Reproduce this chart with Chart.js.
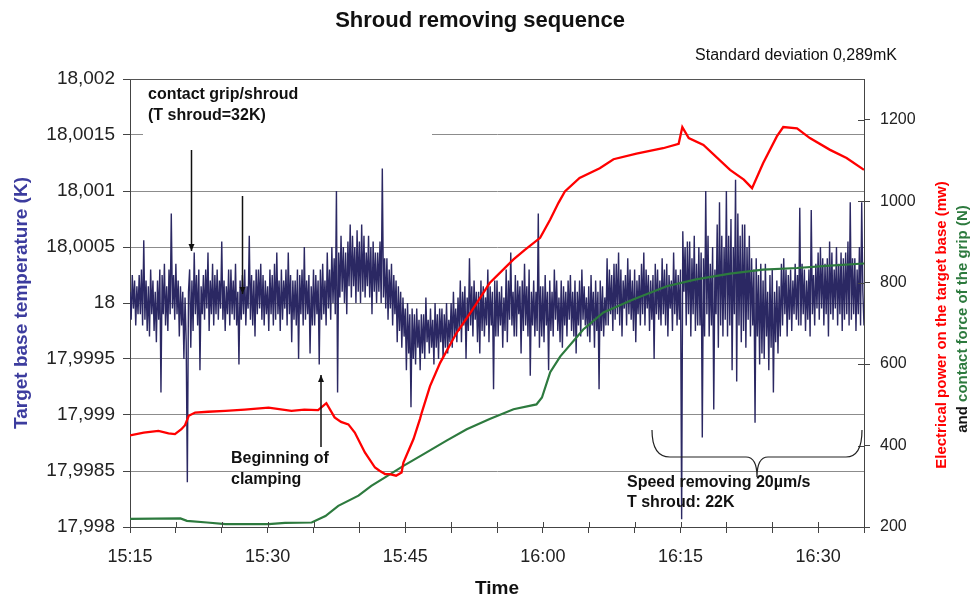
<!DOCTYPE html>
<html>
<head>
<meta charset="utf-8">
<script src="https://cdn.jsdelivr.net/npm/chart.js@4.4.1/dist/chart.umd.min.js"></script>
<style>
  html, body { margin: 0; padding: 0; background: #ffffff; }
  canvas { display: block; }
</style>
</head>
<body>
<canvas id="c" width="973" height="598"></canvas>
<script>
// ---------- DATA (time in minutes after 15:15) ----------
const timeTickMinutes = [0, 15, 30, 45, 60, 75];
const timeTickLabels = ['15:15', '15:30', '15:45', '16:00', '16:15', '16:30'];

// Target base temperature, offset from 18 K in mK, one reading every 0.125 min (8 per minute)
const tempBaseK = 18;
const tempStepMin = 0.125;
const tempOffsetMilliK = [
  .1,-.15,.25,-.05,.2,-.2,.15,-.1,
  .25,-.1,.3,-.2,.56,-.15,.2,-.25,
  .15,-.3,.3,-.1,.2,-.25,.1,-.35,
  .2,-.15,.3,-.8,.25,-.1,.35,-.2,
  .15,-.25,.3,-.1,.8,-.05,.25,-.15,
  .35,-.1,.2,-.3,.15,-.2,.1,-.5,
  .05,-.35,-1.6,.1,.3,-.4,.2,-.25,
  .45,-.1,.25,-.2,.3,-.6,.15,-.1,
  .25,-.15,.3,-.05,.45,-.25,.2,-.1,
  .35,-.2,.25,-.1,.3,-.15,.2,-.05,
  .55,-.15,.2,-.25,.15,-.1,.3,-.2,
  .3,-.1,.2,-.15,.35,-.2,.1,-.55,
  .2,-.15,.25,-.1,.3,-.2,.15,-.05,
  .6,-.15,.25,-.2,.2,-.3,.3,-.1,
  .3,-.05,.35,-.15,.25,-.2,.2,-.1,
  .15,-.25,.3,-.1,.25,-.2,.35,-.15,
  .45,-.1,.2,-.25,.3,-.15,.2,-.05,
  .3,-.2,.45,-.1,.25,-.35,.2,-.15,
  .2,-.2,.3,-.5,.25,-.1,.3,-.2,
  .5,-.15,.2,-.1,.25,-.45,.15,-.2,
  .3,-.2,.25,-.1,.2,-.55,.3,-.15,
  .35,-.1,.2,-.2,.45,-.05,.3,-.15,
  .5,.0,.4,-.1,1.0,-.8,.45,.05,
  .6,.1,.5,.0,.45,-.1,.55,.15,
  .7,.05,.6,.15,.5,.0,.65,.1,
  .55,.0,.7,.1,.6,.05,.45,.15,
  .6,.05,.5,-.1,.55,.1,.45,.0,
  .45,.1,.55,.0,1.2,.05,.4,-.05,
  .4,-.15,.3,-.05,.35,-.2,.25,-.1,
  .2,-.35,.15,-.25,.1,-.4,.05,-.3,
  -.05,-.6,.0,-.45,-.1,-.93,-.05,-.5,
  -.1,-.55,-.05,-.4,-.15,-.6,-.1,-.45,
  -.1,-.5,.05,-.35,-.15,-.45,-.05,-.4,
  -.15,-.55,.0,-.4,-.1,-.5,-.05,-.35,
  -.05,-.5,-.1,-.4,.0,-.45,-.15,-.35,
  .0,-.4,.1,-.3,-.05,-.35,.05,-.25,
  .2,-.35,.1,-.2,.15,-.5,.05,-.25,
  .4,-.2,.15,-.3,.2,-.15,.1,-.35,
  .1,-.45,.2,-.25,.15,-.3,.05,-.2,
  .3,-.35,.15,-.2,.1,-.77,.2,-.3,
  .2,-.3,.1,-.2,.15,-.4,.05,-.25,
  .3,-.35,.2,-.15,.45,-.2,.1,-.3,
  .25,-.3,.2,-.1,.15,-.45,.2,-.25,
  .35,-.2,.15,-.3,.3,-.65,.1,-.2,
  .2,-.3,.1,-.25,.8,-.4,.15,-.3,
  .15,-.35,.25,-.2,.1,-.6,.2,-.25,
  .1,-.3,.3,-.15,.2,-.25,.05,-.35,
  .2,-.4,.15,-.2,.1,-.3,.2,-.15,
  .25,-.25,.1,-.3,.2,-.45,.1,-.2,
  .2,-.3,.3,-.15,.15,-.2,.05,-.3,
  .15,-.35,.25,-.2,.1,-.4,.2,-.25,
  .1,-.77,.2,-.25,.15,-.3,.05,-.2,
  .4,-.2,.3,-.1,.25,-.25,.35,-.15,
  .35,-.1,.45,-.2,.3,-.3,.2,-.05,
  .25,-.2,.4,-.1,.3,-.15,.2,-.25,
  .3,-.35,.2,-.1,.25,-.2,.35,-.1,
  .45,-.2,.3,-.05,.25,-.25,.2,-.15,
  .25,-.5,.35,-.1,.3,-.15,.2,-.2,
  .4,-.1,.3,-.2,.35,-.3,.25,-.05,
  .2,-.25,.45,-.1,.3,-.2,.25,-.15,
  .3,-1.93,.64,.1,.5,-.2,.55,-.1,
  .55,-.3,.4,-.1,.6,-.25,.35,-.2,
  .5,-.2,.45,-1.2,.4,-.3,1.0,-.1,
  .6,-.3,.35,-.2,.5,-.95,.3,-.1,
  .7,-.4,.9,-.2,.6,-.3,.5,-.15,
  1.0,-.3,.6,-.2,.75,-.6,.5,-.1,
  1.1,-.7,.8,-.2,.6,-.35,.7,-.25,
  .7,-.4,.5,-.15,.6,-.3,.4,-.2,
  .3,-1.07,.4,-.3,.25,-.55,.35,-.45,
  .2,-.5,.35,-.3,.1,-.6,.25,-.4,
  .3,-.8,.1,-.35,.2,-.45,.15,-.3,
  .35,-.2,.4,-.1,.3,-.3,.25,-.15,
  .3,-.25,.2,-.1,.35,-.15,.25,-.2,
  .85,-.2,.35,-.1,.3,-.25,.2,-.15,
  .3,-.3,.83,-.1,.25,-.2,.35,-.05,
  .45,-.15,.5,-.05,.4,-.2,.35,-.1,
  .4,-.3,.55,-.1,.45,-.15,.3,-.05,
  .5,-.2,.35,-.1,.45,-.25,.4,-.15,
  .45,-.1,.55,-.2,.9,-.15,.4,-.1,
  .4,-.25,.3,-.1,.5,-.2,.9,.1,
  -.2
];

// Electrical power on the target base (mW)
const powerTimes = [0,1.5,3.1,4.2,4.9,5.6,6.0,6.4,7.1,8.5,10.4,12.5,15.1,17.6,19.0,20.5,21.4,22.3,23.0,23.8,
  24.5,25.6,26.7,27.2,27.8,28.3,29.0,29.6,29.8,30.9,31.6,31.8,32.7,33.8,35.6,37.1,39.2,41.8,43.0,44.7,
  45.8,46.7,47.4,49.0,51.2,52.7,55.2,58.1,59.8,60.2,60.9,62.5,65.4,66.9,67.8,69.0,70.5,71.2,72.7,74.1,
  76.3,78.1,80.0];
const powerValues = [425,432,436,430,428,440,450,473,481,483,485,488,493,485,488,487,504,469,458,452,
  432,383,346,338,330,330,326,334,358,416,465,481,546,603,677,726,799,857,880,910,
  955,996,1024,1057,1081,1103,1117,1130,1141,1182,1155,1138,1077,1053,1032,1093,1159,1182,1179,1155,
  1126,1106,1077];

// Contact force of the grip (N)
const forceTimes = [0,5.5,6.2,8.4,10.4,15.1,16.9,19.8,21.3,22.7,24.9,26.3,27.8,29.8,32.0,34.5,36.7,39.2,41.8,44.3,
  44.9,45.8,46.9,49.4,51.6,54.9,58.5,61.7,65.4,69.0,72.7,76.3,80.0];
const forceValues = [220,221,215,211,207,207,210,211,227,252,277,301,322,350,379,412,440,465,489,501,
  518,580,619,685,727,759,791,808,822,832,836,842,847];

// ---------- build datasets ----------
const tempData = tempOffsetMilliK.map((v, i) => ({ x: i * tempStepMin, y: tempBaseK + v / 1000 }));
const powerData = powerTimes.map((t, i) => ({ x: t, y: powerValues[i] }));
const forceData = forceTimes.map((t, i) => ({ x: t, y: forceValues[i] }));

const FONT = "'Liberation Sans', Arial, sans-serif";

function fmtK(v) {
  const s = String(+Number(v).toFixed(4));
  return s.replace('.', ',');
}

const decor = {
  id: 'decor',
  beforeDraw(chart) {
    const ctx = chart.ctx;
    ctx.save();
    ctx.fillStyle = '#ffffff';
    ctx.fillRect(0, 0, chart.width, chart.height);
    ctx.restore();
  },
  beforeDatasetsDraw(chart) {
    const ctx = chart.ctx;
    ctx.save();
    ctx.fillStyle = '#ffffff';
    ctx.fillRect(143, 84, 289, 56);
    ctx.restore();
  },
  afterDraw(chart) {
    const ctx = chart.ctx;
    const a = chart.chartArea;
    ctx.save();
    ctx.strokeStyle = '#555';
    ctx.lineWidth = 1;
    ctx.beginPath();
    ctx.moveTo(a.left, a.top + 0.5);
    ctx.lineTo(a.right, a.top + 0.5);
    ctx.stroke();
    ctx.strokeStyle = '#444';
    const xs = chart.scales.x;
    xs.ticks.forEach(t => {
      const px = Math.round(xs.getPixelForValue(t.value)) + 0.5;
      ctx.beginPath(); ctx.moveTo(px, a.bottom - 5); ctx.lineTo(px, a.bottom); ctx.stroke();
    });
    const yr = chart.scales.yR;
    yr.ticks.forEach(t => {
      const py = Math.round(yr.getPixelForValue(t.value)) + 0.5;
      ctx.beginPath(); ctx.moveTo(a.right - 6, py); ctx.lineTo(a.right, py); ctx.stroke();
    });

    ctx.textBaseline = 'middle';
    ctx.fillStyle = '#111';
    ctx.font = 'bold 22px ' + FONT;
    ctx.textAlign = 'center';
    ctx.fillText('Shroud removing sequence', 480, 21);
    ctx.font = '16px ' + FONT;
    ctx.textAlign = 'right';
    ctx.fillText('Standard deviation 0,289mK', 897, 56);
    ctx.font = 'bold 19px ' + FONT;
    ctx.textAlign = 'center';
    ctx.fillText('Time', 497, 589);

    ctx.save();
    ctx.translate(22, 303);
    ctx.rotate(-Math.PI / 2);
    ctx.fillStyle = '#3c3c9e';
    ctx.font = 'bold 19px ' + FONT;
    ctx.textAlign = 'center';
    ctx.fillText('Target base temperature (K)', 0, 0);
    ctx.restore();

    ctx.save();
    ctx.translate(942, 325);
    ctx.rotate(-Math.PI / 2);
    ctx.fillStyle = '#ff0000';
    ctx.font = 'bold 15px ' + FONT;
    ctx.textAlign = 'center';
    ctx.fillText('Electrical power on the target base (mw)', 0, 0);
    ctx.restore();

    ctx.save();
    ctx.translate(963, 319);
    ctx.rotate(-Math.PI / 2);
    ctx.font = 'bold 15px ' + FONT;
    ctx.textAlign = 'left';
    const p1 = 'and ', p2 = 'contact force of the grip (N)';
    const w1 = ctx.measureText(p1).width, w2 = ctx.measureText(p2).width;
    const x0 = -(w1 + w2) / 2;
    ctx.fillStyle = '#111';
    ctx.fillText(p1, x0, 0);
    ctx.fillStyle = '#2d7a3e';
    ctx.fillText(p2, x0 + w1, 0);
    ctx.restore();

    ctx.fillStyle = '#111';
    ctx.font = 'bold 16px ' + FONT;
    ctx.textAlign = 'left';
    ctx.fillText('contact grip/shroud', 148, 95);
    ctx.fillText('(T shroud=32K)', 148, 116);
    ctx.fillText('Beginning of', 231, 459);
    ctx.fillText('clamping', 231, 480);
    ctx.fillText('Speed removing 20\u00b5m/s', 627, 483);
    ctx.fillText('T shroud: 22K', 627, 503);

    function arrow(x, y1, y2) {
      ctx.strokeStyle = '#111';
      ctx.fillStyle = '#111';
      ctx.lineWidth = 1.5;
      ctx.beginPath(); ctx.moveTo(x, y1); ctx.lineTo(x, y2); ctx.stroke();
      const d = y2 > y1 ? 1 : -1;
      ctx.beginPath();
      ctx.moveTo(x, y2);
      ctx.lineTo(x - 3, y2 - d * 7);
      ctx.lineTo(x + 3, y2 - d * 7);
      ctx.closePath();
      ctx.fill();
    }
    arrow(191.5, 150, 251);
    arrow(242.5, 196, 294);
    arrow(321, 447, 375);

    ctx.strokeStyle = '#222';
    ctx.lineWidth = 1.2;
    ctx.beginPath();
    ctx.moveTo(652, 430);
    ctx.quadraticCurveTo(652, 457, 670, 457);
    ctx.lineTo(746, 457);
    ctx.quadraticCurveTo(757, 457, 757, 477);
    ctx.quadraticCurveTo(757, 457, 768, 457);
    ctx.lineTo(846, 457);
    ctx.quadraticCurveTo(862, 457, 862, 430);
    ctx.stroke();
    ctx.restore();
  }
};

new Chart(document.getElementById('c'), {
  type: 'line',
  data: {
    datasets: [
      { label: 'Electrical power', data: powerData, yAxisID: 'yR', borderColor: '#ff0000',
        borderWidth: 2.3, pointRadius: 0, tension: 0, order: 0 },
      { label: 'Contact force', data: forceData, yAxisID: 'yR', borderColor: '#2d7a3e',
        borderWidth: 2.2, pointRadius: 0, tension: 0, order: 1 },
      { label: 'Target base temperature', data: tempData, yAxisID: 'yL', borderColor: '#2b2863',
        borderWidth: 1.4, pointRadius: 0, tension: 0, order: 2 }
    ]
  },
  options: {
    responsive: false,
    animation: false,
    devicePixelRatio: 1,
    layout: { padding: { top: 79, left: 0, right: 0, bottom: 0 } },
    plugins: { legend: { display: false }, tooltip: { enabled: false }, title: { display: false } },
    scales: {
      x: {
        type: 'linear', min: 0, max: 80,
        afterFit(s) { s.height = 71; },
        afterBuildTicks(s) {
          const t = [];
          for (let m = 0; m <= 80; m += 5) t.push({ value: m });
          s.ticks = t;
        },
        ticks: {
          autoSkip: false, maxRotation: 0, padding: 13,
          color: '#222', font: { family: FONT, size: 18 },
          callback(v) {
            const i = timeTickMinutes.indexOf(v);
            return i >= 0 ? timeTickLabels[i] : '';
          }
        },
        grid: { drawOnChartArea: false, drawTicks: true, tickLength: 6, tickColor: '#444' },
        border: { display: true, color: '#444', width: 1 }
      },
      yL: {
        type: 'linear', position: 'left', min: 17.998, max: 18.002,
        afterFit(s) { s.width = 130; },
        ticks: { stepSize: 0.0005, padding: 8, color: '#222', font: { family: FONT, size: 19 },
          callback: (v) => fmtK(v) },
        grid: { color: '#8c8c8c', lineWidth: 1, tickLength: 7, tickColor: '#444' },
        border: { display: true, color: '#444', width: 1 }
      },
      yR: {
        type: 'linear', position: 'right', min: 200, max: 1300,
        afterFit(s) { s.width = 109; },
        afterBuildTicks(s) { s.ticks = s.ticks.filter(t => t.value <= 1200); },
        ticks: { stepSize: 200, padding: 10, color: '#222', font: { family: FONT, size: 16 },
          callback: (v) => String(v) },
        grid: { drawOnChartArea: false, tickLength: 6, tickColor: '#444' },
        border: { display: true, color: '#444', width: 1 }
      }
    }
  },
  plugins: [decor]
});
</script>
</body>
</html>
